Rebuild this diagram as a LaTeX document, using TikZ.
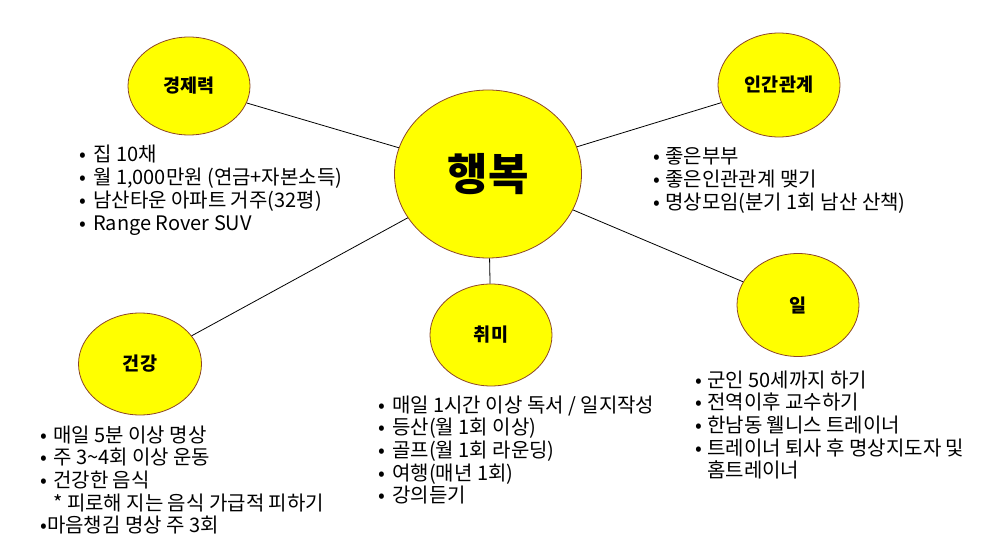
\documentclass[tikz,border=0pt]{standalone}
\usepackage{fontspec}
\setmainfont{Noto Sans CJK KR}
\usetikzlibrary{shapes.geometric}
\definecolor{ellfill}{RGB}{255,255,0}
\definecolor{elledge}{RGB}{140,70,40}
\newcommand{\itm}[2][12pt]{\makebox[#1][l]{•}#2\par}
\newcommand{\lst}[1]{\parbox[t]{400pt}{\fontsize{20}{22.7}\selectfont\setlength{\parindent}{0pt}\raggedright #1}}
\tikzset{
  topic/.style={ellipse, draw=elledge, fill=ellfill, line width=0.8pt, inner sep=0pt,
    font=\fontsize{18.5}{20}\selectfont\bfseries},
  listtext/.style={anchor=base west, inner sep=0pt},
  link/.style={draw=black, line width=0.8pt}
}
\begin{document}
\begin{tikzpicture}[x=1pt,y=-1pt]
\useasboundingbox (0,0) rectangle (988,553);
% topics
\node[topic, minimum width=187pt, minimum height=168pt, font=\fontsize{44}{48}\selectfont\bfseries] (hb) at (488,174) {행복};
\node[topic, minimum width=122pt, minimum height=98pt] (gj) at (189,86) {경제력};
\node[topic, minimum width=122pt, minimum height=104pt] (ig) at (779,85) {인간관계};
\node[topic, minimum width=122pt, minimum height=103pt] (il) at (798,305) {일};
\node[topic, minimum width=122pt, minimum height=102pt] (cm) at (491,335) {취미};
\node[topic, minimum width=123pt, minimum height=102pt] (gk) at (140,364) {건강};
% connectors
\draw[link] (hb) -- (gj);
\draw[link] (hb) -- (ig);
\draw[link] (hb) -- (il);
\draw[link] (hb) -- (cm);
\draw[link] (hb) -- (gk);
% lists
\node[listtext] (lgj) at (79,162) {\lst{%
\itm[14pt]{집 10채}
\itm[14pt]{월 1,000만원 (연금+자본소득)}
\itm[14pt]{남산타운 아파트 거주(32평)}
\itm[14pt]{Range Rover SUV}}};
\node[listtext] (lig) at (653,164) {\lst{%
\itm{좋은부부}
\itm{좋은인관관계 맺기}
\itm{명상모임(분기 1회 남산 산책)}}};
\node[listtext] (lgk) at (40,442) {\lst{%
\itm[13pt]{매일 5분 이상 명상}
\itm[13pt]{주 3\textasciitilde4회 이상 운동}
\itm[13pt]{건강한 음식}
\hspace*{13pt}* 피로해 지는 음식 가급적 피하기\par
•마음챙김 명상 주 3회\par}};
\node[listtext] (lcm) at (378,412) {\lst{%
\itm[14pt]{매일 1시간 이상 독서 / 일지작성}
\itm[14pt]{등산(월 1회 이상)}
\itm[14pt]{골프(월 1회 라운딩)}
\itm[14pt]{여행(매년 1회)}
\itm[14pt]{강의듣기}}};
\node[listtext] (lil) at (695,387) {\lst{%
\itm{군인 50세까지 하기}
\itm{전역이후 교수하기}
\itm{한남동 웰니스 트레이너}
\itm{트레이너 퇴사 후 명상지도자 및}
\hspace*{12pt}홈트레이너\par}};
\end{tikzpicture}
\end{document}
